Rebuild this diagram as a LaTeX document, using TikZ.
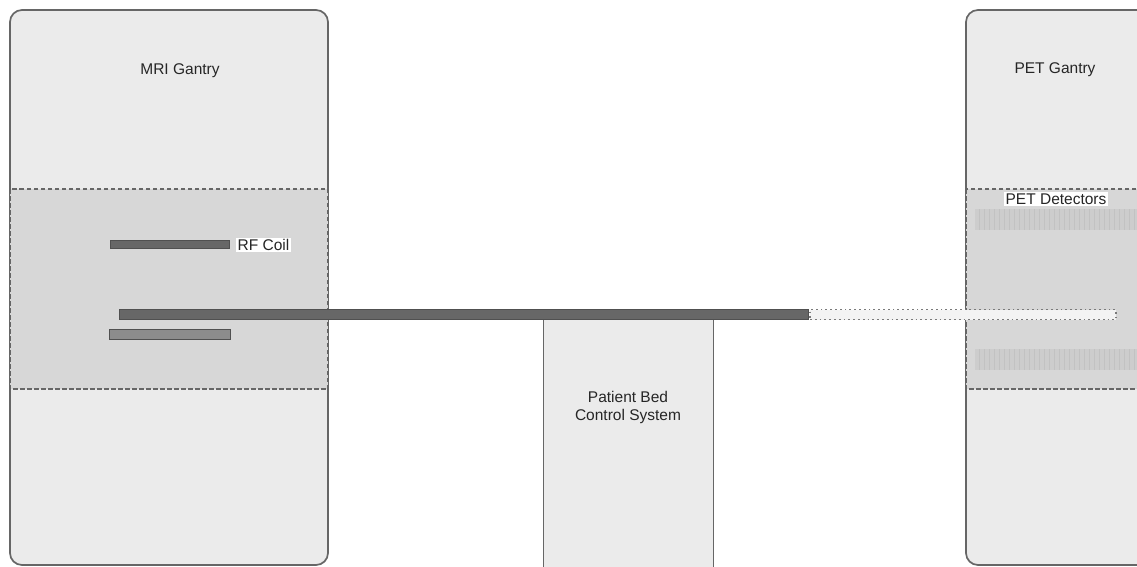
\documentclass[tikz,border=0pt]{standalone}
\usepackage{fontspec}
\setmainfont{Liberation Sans}
\definecolor{gfill}{HTML}{EBEBEB}
\definecolor{zfill}{HTML}{D7D7D7}
\definecolor{edge}{HTML}{666666}
\definecolor{bardark}{HTML}{676767}
\definecolor{barmid}{HTML}{8C8C8C}
\definecolor{barline}{HTML}{505050}
\definecolor{detfill}{HTML}{CDCDCD}
\definecolor{detline}{HTML}{C2C2C2}
\definecolor{dotcol}{HTML}{7A7A7A}
\begin{document}
\begin{tikzpicture}[x=1pt,y=-1pt,
  box/.style={draw=edge,fill=gfill,line width=1.7pt,inner sep=0pt,outer sep=0pt},
  gantry/.style={box,rounded corners=12pt},
  zone/.style={fill=zfill,inner sep=0pt,outer sep=0pt},
  zoneline/.style={draw=edge,line width=1.4pt,dash pattern=on 4.5pt off 2.5pt},
  bar/.style={draw=barline,fill=bardark,line width=1pt,inner sep=0pt,outer sep=0pt},
  bartwo/.style={draw=barline,fill=barmid,line width=1pt,inner sep=0pt,outer sep=0pt},
  ghost/.style={draw=dotcol,fill=gfill!60,line width=1.8pt,dash pattern=on 1.8pt off 3pt,inner sep=0pt,outer sep=0pt},
  lbl/.style={font=\fontsize{15.5}{18}\selectfont,text=black!85,inner sep=1pt,align=center},
  tag/.style={lbl,fill=white,inner sep=1.5pt}
]
\useasboundingbox (0,0) rectangle (1137,566);
\clip (0,0) rectangle (1137,566);
% MRI gantry
\node[gantry,minimum width=318pt,minimum height=555pt] (mri) at (169,287.5) {};
\node[zone,minimum width=318pt,minimum height=200pt] (mrizone) at (169,289) {};
\draw[zoneline] (mrizone.north west) rectangle (mrizone.south east);
\node[lbl] (mrilbl) at (180,71) {MRI Gantry};
% PET gantry
\node[gantry,minimum width=220pt,minimum height=555pt] (pet) at (1076,287.5) {};
\node[zone,minimum width=200pt,minimum height=200pt] (petzone) at (1066,289) {};
\draw[zoneline] (petzone.north west) rectangle (petzone.south east);
\node[lbl] (petlbl) at (1055,70) {PET Gantry};
% detectors
\node[fill=detfill,inner sep=0pt,minimum width=170pt,minimum height=21pt] (dettop) at (1060,219.5) {};
\node[fill=detfill,inner sep=0pt,minimum width=170pt,minimum height=21pt] (detbot) at (1060,359.5) {};
\foreach \xx in {979,984,...,1137}{
  \draw[detline,line width=0.9pt] (\xx,209) -- (\xx,230);
  \draw[detline,line width=0.9pt] (\xx,349) -- (\xx,370);
}
\node[tag] (detlbl) at (1056,199) {PET Detectors};
% bed control
\node[box,minimum width=170pt,minimum height=260pt,anchor=north] (ctrl) at (628.5,319) {};
\node[lbl] (ctrllbl) at (628,407) {Patient Bed\\Control System};
% RF coil
\node[bar,minimum width=119pt,minimum height=8pt] (rf) at (169.5,244) {};
\node[tag,anchor=west] (rflbl) at (236,245) {RF Coil};
% bed
\node[bar,minimum width=689pt,minimum height=10pt] (bed) at (463.5,314.5) {};
\node[bartwo,minimum width=121pt,minimum height=10pt] (coil2) at (169.5,334.5) {};
\node[ghost,minimum width=306pt,minimum height=10pt,anchor=west] (bedout) at (810,314.5) {};
\end{tikzpicture}
\end{document}
